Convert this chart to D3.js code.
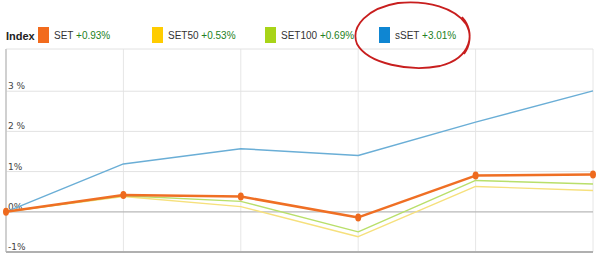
<!DOCTYPE html>
<html>
<head>
<meta charset="utf-8">
<script src="https://cdn.jsdelivr.net/npm/d3@7"></script>
<style>
  body { margin: 0; background: #fff; }
  svg { display: block; font-family: "DejaVu Sans", sans-serif; }
</style>
</head>
<body>
<div id="chart"></div>
<script>
const width = 600;
const height = 262;
const marginTop = 49;
const marginRight = 7;
const marginBottom = 10;
const marginLeft = 6;

// time steps (not labelled on the chart)
const steps = ["t1", "t2", "t3", "t4", "t5", "t6"];
const seriesNames = ["SET", "SET50", "SET100", "sSET"];
const changes = ["+0.93%", "+0.53%", "+0.69%", "+3.01%"];
const setValues = [0, 0.42, 0.38, -0.14, 0.90, 0.93];
const set50Values = [0, 0.38, 0.13, -0.62, 0.63, 0.53];
const set100Values = [0, 0.40, 0.26, -0.50, 0.78, 0.69];
const ssetValues = [0, 1.19, 1.57, 1.40, 2.23, 3.01];
const yTicks = [-1, 0, 1, 2, 3];
const yTickLabels = ["-1%", "0%", "1%", "2 %", "3 %"];

const swatch = ["#f26b1d", "#ffcc00", "#a8d418", "#0f86d2"];
const lineColor = ["#ef6f24", "#f6e07c", "#b9df6a", "#6aaed6"];
const lineWidth = [2.5, 1.4, 1.4, 1.4];

const svg = d3.select("#chart")
  .append("svg")
  .attr("width", width)
  .attr("height", height);

const x = d3.scalePoint()
  .domain(steps)
  .range([marginLeft, width - marginRight]);

const y = d3.scaleLinear()
  .domain([-1, 4.05])
  .range([height - marginBottom, marginTop]);

// vertical grid
svg.append("g")
  .selectAll("line")
  .data(steps)
  .join("line")
  .attr("x1", d => x(d))
  .attr("x2", d => x(d))
  .attr("y1", y(4.05))
  .attr("y2", y(-1))
  .attr("stroke", "#e6e6e6");

// horizontal grid
svg.append("g")
  .selectAll("line")
  .data(yTicks.concat([4.05]))
  .join("line")
  .attr("x1", marginLeft)
  .attr("x2", width - marginRight)
  .attr("y1", d => y(d))
  .attr("y2", d => y(d))
  .attr("stroke", d => d === 0 ? "#b8b8b8" : "#e2e2e2")
  .attr("stroke-width", d => d === 0 ? 1.2 : 1);

// axis lines
svg.append("line")
  .attr("x1", marginLeft).attr("x2", marginLeft)
  .attr("y1", y(4.05)).attr("y2", y(-1))
  .attr("stroke", "#c4c4c4").attr("stroke-width", 1.5);
svg.append("line")
  .attr("x1", marginLeft).attr("x2", width - marginRight)
  .attr("y1", y(-1)).attr("y2", y(-1))
  .attr("stroke", "#b0b0b0").attr("stroke-width", 2);

// y labels
svg.append("g")
  .selectAll("text")
  .data(yTicks)
  .join("text")
  .attr("x", marginLeft + 2)
  .attr("y", d => y(d) - 2)
  .attr("font-size", 9)
  .attr("fill", "#444")
  .text((d, i) => yTickLabels[i]);

const lineGen = d3.line()
  .x((d, i) => x(steps[i]))
  .y(d => y(d));

const allValues = [setValues, set50Values, set100Values, ssetValues];
// draw order: yellow, green, blue, orange on top
[1, 2, 3, 0].forEach(k => {
  svg.append("path")
    .datum(allValues[k])
    .attr("d", lineGen)
    .attr("fill", "none")
    .attr("stroke", lineColor[k])
    .attr("stroke-width", lineWidth[k])
    .attr("stroke-linejoin", "round");
});

svg.append("g")
  .selectAll("ellipse")
  .data(setValues)
  .join("ellipse")
  .attr("cx", (d, i) => x(steps[i]))
  .attr("cy", d => y(d))
  .attr("rx", 3)
  .attr("ry", 4)
  .attr("fill", "#ee6a1e");

// legend
const legend = svg.append("g")
  .attr("font-family", "'Liberation Sans', Arial, sans-serif");
legend.append("text")
  .attr("x", 6).attr("y", 40)
  .attr("font-size", 11)
  .attr("font-weight", "bold")
  .attr("fill", "#222")
  .text("Index");

const legendX = [38, 152, 265, 379];
const item = legend.selectAll(".item")
  .data(seriesNames)
  .join("g")
  .attr("class", "item")
  .attr("transform", (d, i) => `translate(${legendX[i]},0)`);

item.append("rect")
  .attr("x", 0).attr("y", 27)
  .attr("width", 11).attr("height", 16)
  .attr("fill", (d, i) => swatch[i]);

const label = item.append("text")
  .attr("x", 16).attr("y", 39)
  .attr("font-size", 10);
label.append("tspan")
  .attr("fill", "#333")
  .text(d => d + " ");
label.append("tspan")
  .attr("fill", "#237f23")
  .text((d, i) => changes[i]);

// hand-drawn red circle around sSET
svg.append("path")
  .attr("d", "M462,17 C476,32 472,58 440,66 C410,72 368,64 357,44 C350,26 368,8 398,3 C428,0 455,8 466,24 C472,34 470,46 464,54")
  .attr("fill", "none")
  .attr("stroke", "#c81e1e")
  .attr("stroke-width", 1.8);
</script>
</body>
</html>
